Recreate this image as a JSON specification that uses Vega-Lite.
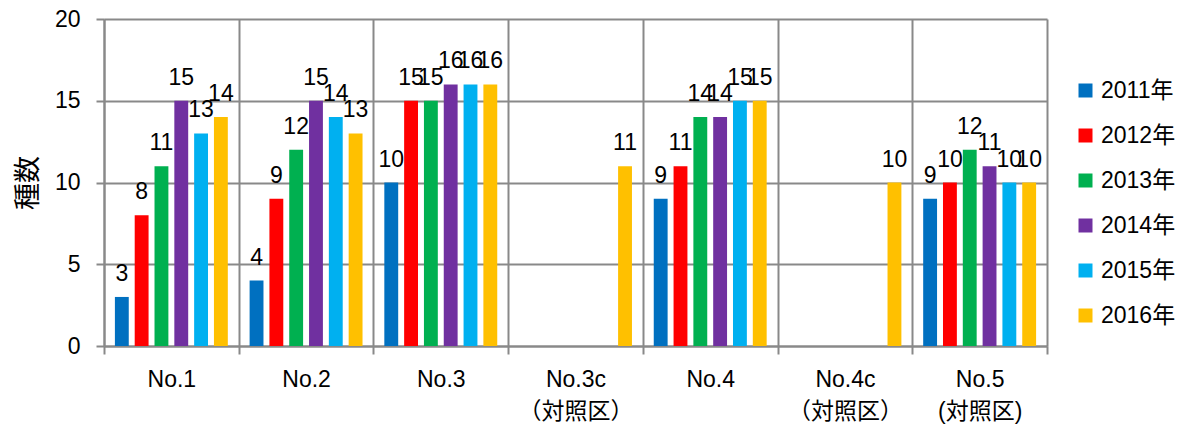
{
  "$schema": "https://vega.github.io/schema/vega-lite/v6.json",
  "autosize": "none",
  "width": 943,
  "height": 327,
  "padding": {"left": 104, "top": 19, "right": 135, "bottom": 78},
  "background": "white",
  "config": {
    "view": {"stroke": null},
    "font": "Liberation Sans, Arial, Noto Sans CJK JP"
  },
  "data": {
    "values": [
      {"site": "No.1", "year": "2011年", "n": 3},
      {"site": "No.1", "year": "2012年", "n": 8},
      {"site": "No.1", "year": "2013年", "n": 11},
      {"site": "No.1", "year": "2014年", "n": 15},
      {"site": "No.1", "year": "2015年", "n": 13},
      {"site": "No.1", "year": "2016年", "n": 14},
      {"site": "No.2", "year": "2011年", "n": 4},
      {"site": "No.2", "year": "2012年", "n": 9},
      {"site": "No.2", "year": "2013年", "n": 12},
      {"site": "No.2", "year": "2014年", "n": 15},
      {"site": "No.2", "year": "2015年", "n": 14},
      {"site": "No.2", "year": "2016年", "n": 13},
      {"site": "No.3", "year": "2011年", "n": 10},
      {"site": "No.3", "year": "2012年", "n": 15},
      {"site": "No.3", "year": "2013年", "n": 15},
      {"site": "No.3", "year": "2014年", "n": 16},
      {"site": "No.3", "year": "2015年", "n": 16},
      {"site": "No.3", "year": "2016年", "n": 16},
      {"site": "No.3c|（対照区）", "year": "2016年", "n": 11},
      {"site": "No.4", "year": "2011年", "n": 9},
      {"site": "No.4", "year": "2012年", "n": 11},
      {"site": "No.4", "year": "2013年", "n": 14},
      {"site": "No.4", "year": "2014年", "n": 14},
      {"site": "No.4", "year": "2015年", "n": 15},
      {"site": "No.4", "year": "2016年", "n": 15},
      {"site": "No.4c|（対照区）", "year": "2016年", "n": 10},
      {"site": "No.5|(対照区)", "year": "2011年", "n": 9},
      {"site": "No.5|(対照区)", "year": "2012年", "n": 10},
      {"site": "No.5|(対照区)", "year": "2013年", "n": 12},
      {"site": "No.5|(対照区)", "year": "2014年", "n": 11},
      {"site": "No.5|(対照区)", "year": "2015年", "n": 10},
      {"site": "No.5|(対照区)", "year": "2016年", "n": 10}
    ]
  },
  "encoding": {
    "x": {
      "field": "site",
      "type": "nominal",
      "sort": null,
      "scale": {"paddingInner": 0, "paddingOuter": 0},
      "axis": {
        "title": null,
        "labelAngle": 0,
        "labelExpr": "split(datum.label, '|')",
        "labelFontSize": 23,
        "labelColor": "black",
        "labelLineHeight": 32,
        "labelPadding": 14,
        "labelBaseline": "top",
        "tickBand": "extent",
        "tickSize": 8,
        "tickColor": "#898989",
        "tickWidth": 2,
        "domainColor": "#898989",
        "domainWidth": 2,
        "grid": true,
        "gridColor": "#898989",
        "gridWidth": 2
      }
    },
    "xOffset": {
      "field": "year",
      "type": "nominal",
      "scale": {"paddingInner": 0.3, "paddingOuter": 0.55}
    },
    "y": {
      "field": "n",
      "type": "quantitative",
      "scale": {"domain": [0, 20]},
      "axis": {
        "title": "種数",
        "titleFontSize": 27,
        "titleFontWeight": "normal",
        "titleColor": "black",
        "titlePadding": 12,
        "values": [0, 5, 10, 15, 20],
        "labelFontSize": 23,
        "labelColor": "black",
        "labelPadding": 16,
        "tickSize": 8,
        "tickColor": "#898989",
        "tickWidth": 2,
        "domainColor": "#898989",
        "domainWidth": 2,
        "gridColor": "#898989",
        "gridWidth": 2
      }
    }
  },
  "layer": [
    {
      "mark": {"type": "bar"},
      "encoding": {
        "color": {
          "field": "year",
          "type": "nominal",
          "scale": {
            "domain": ["2011年", "2012年", "2013年", "2014年", "2015年", "2016年"],
            "range": ["#0070C0", "#FF0000", "#00B050", "#7030A0", "#00B0F0", "#FFC000"]
          },
          "legend": {
            "title": null,
            "orient": "none",
            "legendX": 970,
            "legendY": 60,
            "symbolType": "square",
            "symbolSize": 196,
            "symbolStrokeWidth": 0,
            "labelFontSize": 23,
            "labelColor": "black",
            "labelOffset": 4,
            "rowPadding": 21,
            "padding": 0
          }
        }
      }
    },
    {
      "mark": {"type": "text", "baseline": "alphabetic", "dy": -16, "fontSize": 23, "color": "black"},
      "encoding": {"text": {"field": "n", "type": "quantitative"}}
    }
  ]
}
